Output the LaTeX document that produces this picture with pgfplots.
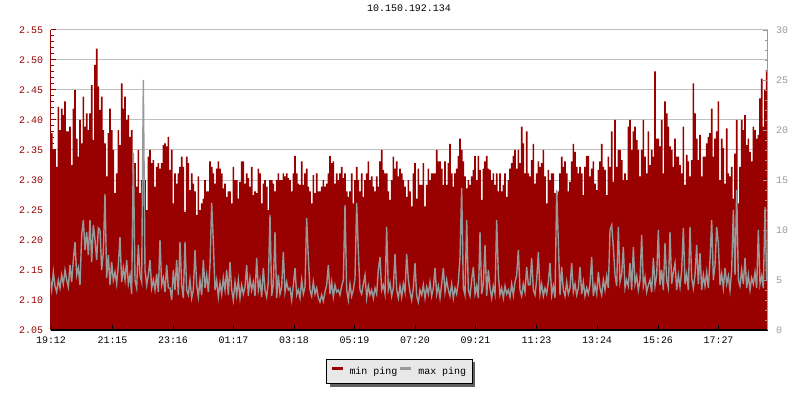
\documentclass[border=0pt]{standalone}
\usepackage{pgfplots}
\pgfplotsset{compat=1.18}
\usepackage{pgfplotstable}
\usepackage{fontspec}
\setmainfont{Liberation Mono}
\usetikzlibrary{shadows}
\definecolor{minred}{HTML}{990000}
\definecolor{maxgray}{HTML}{999999}
\definecolor{gridgray}{HTML}{C0C0C0}
\definecolor{legfill}{HTML}{E8E8E8}
\definecolor{shadowgray}{HTML}{606060}
\makeatletter
\tikzset{no preactions/.code={\let\tikz@preactions=\pgfutil@empty}}
\makeatother

% one row every 1.67 px (10/3 min); columns: min ping (left axis), max ping (right axis)
\pgfplotstableread[row sep=\\]{
min max \\
2.378 5.2 \\ 2.378 4.0 \\ 2.350 5.8 \\ 2.350 4.4 \\ 2.322 3.8 \\ 2.422 5.0 \\ 2.383 4.2 \\ 2.419 5.5 \\ 2.408 4.6 \\ 2.431 6.0 \\
2.381 5.0 \\ 2.381 4.3 \\ 2.389 6.5 \\ 2.325 4.8 \\ 2.419 7.0 \\ 2.450 8.8 \\ 2.369 5.5 \\ 2.339 6.2 \\ 2.400 4.5 \\ 2.361 9.5 \\
2.439 11.0 \\ 2.389 8.0 \\ 2.411 9.8 \\ 2.383 7.5 \\ 2.411 11.0 \\ 2.458 6.8 \\ 2.367 10.5 \\ 2.492 9.0 \\ 2.519 7.0 \\ 2.456 10.2 \\
2.417 10.0 \\ 2.439 6.0 \\ 2.383 7.8 \\ 2.361 13.6 \\ 2.306 5.2 \\ 2.378 7.5 \\ 2.419 4.5 \\ 2.383 6.8 \\ 2.350 5.0 \\ 2.278 5.8 \\
2.311 4.6 \\ 2.383 6.5 \\ 2.358 9.3 \\ 2.461 4.8 \\ 2.419 6.2 \\ 2.439 5.0 \\ 2.400 7.0 \\ 2.408 4.6 \\ 2.372 5.5 \\ 2.383 3.6 \\
2.311 17.7 \\ 2.328 5.0 \\ 2.289 4.2 \\ 2.350 8.5 \\ 2.278 5.5 \\ 2.300 4.8 \\ 2.300 25.0 \\ 2.300 6.0 \\ 2.250 4.5 \\ 2.339 5.5 \\
2.350 7.0 \\ 2.328 4.2 \\ 2.333 5.0 \\ 2.289 4.0 \\ 2.322 5.6 \\ 2.328 3.8 \\ 2.319 9.0 \\ 2.328 4.5 \\ 2.358 5.2 \\ 2.361 3.8 \\
2.356 6.5 \\ 2.372 4.2 \\
2.317 4.2 \\ 2.350 3.0 \\ 2.261 6.0 \\ 2.311 4.0 \\ 2.294 7.0 \\ 2.311 3.5 \\ 2.322 8.8 \\ 2.339 4.5 \\ 2.322 3.2 \\ 2.247 8.8 \\
2.339 4.0 \\ 2.328 3.5 \\ 2.283 5.0 \\ 2.311 3.2 \\ 2.294 4.0 \\ 2.281 8.0 \\ 2.242 4.5 \\ 2.306 3.3 \\ 2.250 5.0 \\ 2.261 3.5 \\
2.269 7.0 \\ 2.300 4.2 \\ 2.281 5.5 \\ 2.281 3.8 \\ 2.331 6.5 \\ 2.322 12.7 \\ 2.311 8.8 \\ 2.294 4.0 \\ 2.319 5.0 \\ 2.331 3.3 \\
2.319 4.7 \\ 2.311 3.6 \\ 2.286 5.2 \\ 2.294 4.0 \\ 2.272 6.0 \\ 2.281 3.5 \\ 2.281 6.8 \\ 2.261 4.0 \\ 2.322 3.0 \\ 2.300 4.8 \\
2.300 3.5 \\ 2.269 5.0 \\ 2.297 3.2 \\ 2.331 4.5 \\ 2.331 3.6 \\ 2.294 4.3 \\ 2.311 6.5 \\ 2.303 3.4 \\ 2.289 5.2 \\ 2.322 4.0 \\
2.275 4.8 \\ 2.281 3.4 \\ 2.278 7.2 \\ 2.319 4.0 \\ 2.311 5.0 \\ 2.261 3.3 \\ 2.294 6.2 \\ 2.300 4.0 \\ 2.289 3.3 \\ 2.250 4.8 \\
2.300 11.5 \\ 2.300 3.4 \\ 2.294 4.6 \\ 2.281 9.8 \\ 2.300 3.2 \\ 2.311 5.5 \\ 2.300 3.6 \\ 2.300 4.3 \\ 2.311 7.8 \\ 2.306 3.8 \\
2.311 4.8 \\ 2.303 4.0 \\
2.300 4.2 \\ 2.281 3.0 \\ 2.311 4.5 \\ 2.340 6.2 \\ 2.311 3.5 \\ 2.294 4.0 \\ 2.292 3.2 \\ 2.331 5.0 \\ 2.292 3.6 \\ 2.311 4.3 \\
2.319 11.2 \\ 2.289 7.2 \\ 2.281 4.0 \\ 2.261 3.4 \\ 2.308 4.8 \\ 2.278 3.6 \\ 2.311 4.2 \\ 2.281 3.2 \\ 2.281 2.8 \\ 2.289 3.5 \\
2.300 2.9 \\ 2.289 3.8 \\ 2.294 4.5 \\ 2.311 6.5 \\ 2.340 3.6 \\ 2.328 4.8 \\ 2.331 3.3 \\ 2.294 4.5 \\ 2.311 3.8 \\ 2.300 4.0 \\
2.311 3.5 \\ 2.322 4.4 \\ 2.303 5.0 \\ 2.311 12.5 \\ 2.281 4.0 \\ 2.272 3.0 \\ 2.281 4.6 \\ 2.311 3.4 \\ 2.261 4.0 \\ 2.300 5.2 \\
2.322 12.7 \\ 2.300 7.8 \\ 2.281 4.0 \\ 2.311 3.6 \\ 2.272 4.6 \\ 2.300 5.5 \\ 2.311 3.2 \\ 2.331 4.4 \\ 2.300 3.5 \\ 2.306 4.0 \\
2.289 3.2 \\ 2.281 4.2 \\ 2.306 3.6 \\ 2.289 6.0 \\ 2.331 7.3 \\ 2.350 4.0 \\ 2.317 4.5 \\ 2.311 3.6 \\ 2.311 10.3 \\ 2.281 4.0 \\
2.267 4.7 \\ 2.300 3.4 \\ 2.339 4.2 \\ 2.319 7.6 \\ 2.331 4.0 \\ 2.306 3.2 \\ 2.319 4.4 \\ 2.311 3.3 \\ 2.300 4.6 \\ 2.289 3.8 \\
2.272 7.6 \\ 2.300 5.0 \\
2.281 3.8 \\ 2.256 3.0 \\ 2.311 4.2 \\ 2.328 6.7 \\ 2.269 3.4 \\ 2.319 2.8 \\ 2.292 4.0 \\ 2.292 3.5 \\ 2.328 4.5 \\ 2.256 3.2 \\
2.292 4.3 \\ 2.319 3.6 \\ 2.300 4.8 \\ 2.311 3.4 \\ 2.311 4.2 \\ 2.311 6.2 \\ 2.350 3.6 \\ 2.331 4.4 \\ 2.331 3.2 \\ 2.319 4.6 \\
2.292 6.2 \\ 2.331 3.8 \\ 2.292 5.0 \\ 2.328 4.0 \\ 2.360 3.4 \\ 2.311 4.6 \\ 2.289 3.2 \\ 2.311 4.2 \\ 2.319 3.6 \\ 2.340 4.8 \\
2.369 7.3 \\ 2.350 14.2 \\ 2.331 4.2 \\ 2.306 3.5 \\ 2.286 11.0 \\ 2.300 4.0 \\ 2.292 3.4 \\ 2.306 5.0 \\ 2.317 6.3 \\ 2.340 3.6 \\
2.300 4.4 \\ 2.340 3.2 \\ 2.317 9.8 \\ 2.267 3.6 \\ 2.319 4.6 \\ 2.331 8.5 \\ 2.340 3.4 \\ 2.319 6.0 \\ 2.317 4.2 \\ 2.300 3.2 \\
2.311 4.4 \\ 2.292 3.6 \\ 2.311 11.0 \\ 2.281 5.5 \\ 2.311 3.5 \\ 2.281 4.2 \\ 2.292 3.2 \\ 2.311 4.4 \\ 2.272 3.6 \\ 2.300 4.0 \\
2.319 3.3 \\ 2.328 4.6 \\ 2.340 3.5 \\ 2.350 4.8 \\ 2.319 5.5 \\ 2.350 8.0 \\ 2.328 4.0 \\ 2.389 3.4 \\ 2.361 4.6 \\ 2.311 3.8 \\
2.381 6.3 \\ 2.311 4.5 \\
2.306 4.5 \\ 2.333 7.2 \\ 2.360 4.0 \\ 2.294 3.5 \\ 2.311 5.0 \\ 2.331 7.8 \\ 2.322 3.6 \\ 2.328 4.6 \\ 2.350 3.4 \\ 2.306 4.2 \\
2.261 3.6 \\ 2.317 4.8 \\ 2.300 6.7 \\ 2.311 3.5 \\ 2.311 4.4 \\ 2.278 3.2 \\ 2.275 14.0 \\ 2.281 8.8 \\ 2.311 3.5 \\ 2.339 6.3 \\
2.322 4.0 \\ 2.331 3.4 \\ 2.311 4.8 \\ 2.281 3.6 \\ 2.297 4.2 \\ 2.331 6.7 \\ 2.360 3.8 \\ 2.347 4.6 \\ 2.322 3.5 \\ 2.311 4.2 \\
2.322 6.3 \\ 2.311 3.6 \\ 2.275 4.8 \\ 2.322 3.4 \\ 2.340 4.2 \\ 2.340 3.6 \\ 2.306 4.6 \\ 2.319 7.3 \\ 2.331 3.4 \\ 2.294 4.5 \\
2.283 3.6 \\ 2.317 5.8 \\ 2.331 4.2 \\ 2.360 3.5 \\ 2.322 5.0 \\ 2.317 4.0 \\ 2.275 5.4 \\ 2.339 4.2 \\ 2.322 10.0 \\ 2.381 10.5 \\
2.297 8.3 \\ 2.400 5.5 \\ 2.322 4.4 \\ 2.350 10.3 \\ 2.350 4.8 \\ 2.333 5.6 \\ 2.300 8.3 \\ 2.311 4.2 \\ 2.300 5.0 \\ 2.389 4.4 \\
2.400 6.7 \\ 2.350 4.0 \\ 2.381 8.3 \\ 2.389 4.6 \\ 2.367 5.4 \\ 2.350 4.0 \\ 2.306 5.0 \\ 2.350 9.5 \\ 2.400 4.4 \\ 2.339 5.3 \\
2.311 3.8 \\ 2.381 4.5 \\
2.325 5.0 \\ 2.350 3.8 \\ 2.339 7.2 \\ 2.481 4.4 \\ 2.369 5.5 \\ 2.369 10.0 \\ 2.356 4.5 \\ 2.400 6.0 \\ 2.311 4.0 \\ 2.431 8.7 \\
2.411 5.0 \\ 2.389 4.2 \\ 2.356 9.8 \\ 2.350 4.6 \\ 2.322 5.8 \\ 2.369 6.7 \\ 2.339 4.0 \\ 2.339 5.5 \\ 2.325 4.3 \\ 2.311 6.0 \\
2.389 10.2 \\ 2.292 4.6 \\ 2.342 5.6 \\ 2.331 4.0 \\ 2.306 10.3 \\ 2.333 5.2 \\ 2.461 4.2 \\ 2.411 5.5 \\ 2.369 8.5 \\ 2.333 4.6 \\
2.375 7.7 \\ 2.306 4.0 \\ 2.339 5.5 \\ 2.339 4.4 \\ 2.361 5.8 \\ 2.372 4.2 \\ 2.378 7.0 \\ 2.419 11.0 \\ 2.339 5.0 \\ 2.369 6.5 \\
2.381 10.3 \\ 2.431 8.7 \\ 2.300 4.5 \\ 2.369 5.6 \\ 2.353 4.2 \\ 2.294 6.2 \\ 2.386 4.6 \\ 2.311 5.4 \\ 2.306 4.0 \\ 2.322 6.0 \\
2.269 12.0 \\ 2.344 5.5 \\ 2.400 14.0 \\ 2.261 5.0 \\ 2.322 4.4 \\ 2.400 6.0 \\ 2.383 4.6 \\ 2.408 7.2 \\ 2.358 4.2 \\ 2.369 5.5 \\
2.347 4.0 \\ 2.331 5.2 \\ 2.389 4.6 \\ 2.383 5.8 \\ 2.369 4.2 \\ 2.375 10.0 \\ 2.436 4.6 \\ 2.469 5.4 \\ 2.389 4.2 \\ 2.450 12.3 \\
2.481 5.0 \\ 2.508 4.8 \\
}\pingdata

\begin{document}
\begin{tikzpicture}[x=1bp,y=1bp]
\pgfplotsset{
  every axis/.append style={
    at={(50.5bp,70bp)}, anchor=south west,
    scale only axis, width=717bp, height=300bp,
    xmin=-1, xmax=1433,
    tick align=inside,
    major tick length=5bp, minor tick length=3bp,
    font=\fontsize{10}{12}\selectfont,
    /pgf/number format/assume math mode=true,
  },
}
% left axis: min ping (filled)
\begin{axis}[
  ymin=2.05, ymax=2.55,
  axis x line=none,
  axis y line*=left,
  y axis line style={minred, line width=1bp},
  ytick={2.05,2.10,2.15,2.20,2.25,2.30,2.35,2.40,2.45,2.50,2.55},
  minor y tick num=4,
  every y tick/.style={minred, line width=1bp},
  every minor y tick/.style={minred, line width=1bp},
  yticklabel style={minred, xshift=-4bp,
    /pgf/number format/.cd, fixed, fixed zerofill, precision=2},
  ymajorgrids,
  major grid style={gridgray, line width=1bp},
  title={10.150.192.134},
  title style={at={(0.5,1)}, anchor=base, yshift=12.5bp},
]
\addplot[draw=none, fill=minred, const plot mark mid]
  table[x expr=\coordindex*10/3-2, y=min]{\pingdata} \closedcycle;
\end{axis}
% right axis: max ping (line)
\begin{axis}[
  ymin=0, ymax=30,
  axis on top,
  axis x line*=bottom,
  axis y line*=right,
  x axis line style={black, line width=1.2bp},
  y axis line style={maxgray, line width=1bp},
  xtick={0,123,244,365,486,607,728,849,971,1092,1214,1335},
  xticklabels={19:12,21:15,23:16,01:17,03:18,05:19,07:20,09:21,11:23,13:24,15:26,17:27},
  every x tick/.style={black, line width=1bp},
  xticklabel style={yshift=-3bp},
  ytick={0,5,10,15,20,25,30},
  minor y tick num=4,
  every y tick/.style={maxgray, line width=1bp},
  every minor y tick/.style={maxgray, line width=1bp},
  yticklabel style={maxgray, xshift=5bp},
  legend columns=2,
  legend style={at={(0.4865,-0.138)}, anchor=center,
    draw=black, line width=1bp, fill=legfill,
    font=\fontsize{10}{12}\selectfont,
    inner xsep=4bp, inner ysep=6bp,
    /tikz/every even column/.append style={column sep=0bp},
    /tikz/every odd column/.append style={column sep=2bp},
    drop shadow={shadow xshift=3bp, shadow yshift=-3bp, fill=shadowgray, opacity=1}},
  legend image code/.code={\fill[#1, draw=none, no preactions] (0bp,1.5bp) rectangle (11bp,4.5bp);
    \path[draw=none, fill=none, no preactions] (-1bp,3bp) (14bp,3bp);},
]
\addlegendimage{minred}
\addlegendentry{min ping}
\addlegendimage{maxgray}
\addlegendentry{max ping}
\addplot[maxgray, line width=1.4bp, sharp plot, forget plot]
  table[x expr=\coordindex*10/3-2, y=max]{\pingdata};
\end{axis}
\pgfresetboundingbox
\useasboundingbox (0,0) rectangle (800,400);
\end{tikzpicture}
\end{document}
